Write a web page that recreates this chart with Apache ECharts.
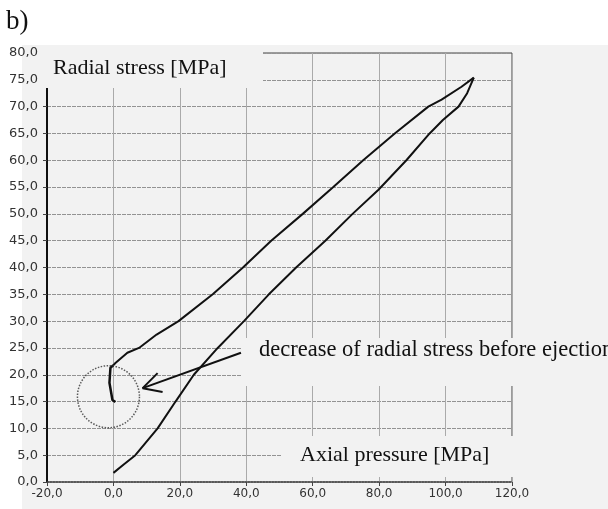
<!DOCTYPE html>
<html><head><meta charset="utf-8">
<script src="https://cdn.jsdelivr.net/npm/echarts@6/dist/echarts.min.js"></script>
<style>
html,body{margin:0;padding:0;background:#fff;}
#bg{position:absolute;left:22px;top:45px;width:586px;height:464px;background:#f2f2f2;}
#chart{position:absolute;left:0;top:0;width:608px;height:509px;}
</style></head><body>
<div id="bg"></div><div id="chart"></div>
<script>
// Axial pressure [MPa], Radial stress [MPa]
const loadingBranch = [[0,1.7],[3,3.2],[6.6,5],[13.3,10],[18.7,15],[24.2,20],[31.4,25],[39.3,30],[46.8,35],[55.0,40],[63.8,45],[72.0,50],[79.8,54.5],[88.2,60],[95.2,65],[99.2,67.5],[103.9,70],[106.5,72.5],[108.5,75.4]];
const unloadingBranch = [[108.5,75.4],[104.8,73.7],[98.8,71.3],[94.8,70],[84.7,65],[75.2,60],[66.2,55],[57.0,50],[47.5,45],[39.0,40],[29.9,35],[19.6,30],[13,27.5],[7.7,25],[4.2,24.1],[0.6,22.2],[0,21.8]];
const ejectionDrop = [[0,21.8],[-0.9,21.3],[-1.2,18.5],[-0.3,15.3],[0.6,14.9]];
const arrowShaft = [[38.4,24.1],[8.8,17.5]];
const arrowHead = [[13.3,20.3],[8.8,17.5],[14.8,16.8]];
const circleCenter = [[-1.5,15.9]];
const xRange = [-20, 120, 20];
const yRange = [0, 80, 5];
const labels = ['b)', 'Radial stress [MPa]', 'decrease of radial stress before ejection', 'Axial pressure [MPa]'];

const fmt = v => v.toFixed(1).replace('.', ',');
const serif = '"Liberation Serif", "Times New Roman", serif';
const chart = echarts.init(document.getElementById('chart'), null, {renderer: 'canvas'});
const cover = (x, y, w, h) => ({type: 'rect', shape: {x, y, width: w, height: h}, style: {fill: '#f2f2f2'}, z: 1, silent: true});
const txt = (s, x, y, size) => ({type: 'text', x, y, z: 5, silent: true, style: {text: s, font: size + 'px ' + serif, fill: '#111', verticalAlign: 'middle', textVerticalAlign: 'middle'}});

chart.setOption({
  animation: false,
  backgroundColor: 'transparent',
  grid: {left: 47, right: 96, top: 53, bottom: 27, show: true, borderColor: '#444', borderWidth: 1, outerBoundsMode: 'none', containLabel: false},
  xAxis: {
    type: 'value', min: xRange[0], max: xRange[1], interval: xRange[2],
    axisLine: {show: true, onZero: false, lineStyle: {color: '#444', width: 1.5, type: 'dotted'}},
    axisTick: {show: true, length: 4, lineStyle: {color: '#444'}},
    axisLabel: {formatter: fmt, margin: 6, color: '#333', fontSize: 12, fontFamily: 'DejaVu Sans'},
    splitLine: {show: true, lineStyle: {color: '#aaa', width: 1}}
  },
  yAxis: {
    type: 'value', min: yRange[0], max: yRange[1], interval: yRange[2],
    axisLine: {show: true, onZero: false, lineStyle: {color: '#111', width: 2}},
    axisTick: {show: true, length: 4, lineStyle: {color: '#444'}},
    axisLabel: {formatter: fmt, margin: 9, color: '#333', fontSize: 13, fontFamily: 'DejaVu Sans'},
    splitLine: {show: true, lineStyle: {color: '#939393', width: 1.2, type: [4, 1]}}
  },
  series: [
    {type: 'line', data: loadingBranch, symbol: 'none', lineStyle: {color: '#111', width: 2}, z: 3},
    {type: 'line', data: unloadingBranch, symbol: 'none', lineStyle: {color: '#111', width: 2}, z: 3},
    {type: 'line', data: ejectionDrop, symbol: 'none', lineStyle: {color: '#111', width: 2.5}, z: 3},
    {type: 'line', data: arrowShaft, symbol: 'none', lineStyle: {color: '#111', width: 2}, z: 3},
    {type: 'line', data: arrowHead, symbol: 'none', lineStyle: {color: '#111', width: 2}, z: 3},
    {type: 'scatter', data: circleCenter, symbol: 'circle', symbolSize: 62, itemStyle: {color: 'rgba(0,0,0,0)', borderColor: '#333', borderWidth: 1.5, borderType: [1.5, 1.5]}, z: 3, silent: true}
  ],
  graphic: [
    cover(42, 46, 221, 42),
    cover(242, 338, 366, 48),
    cover(282, 436, 240, 41),
    txt(labels[0], 6, 22, 27),
    txt(labels[1], 53, 68, 22),
    txt(labels[2], 259, 350, 22.5),
    txt(labels[3], 300, 455, 22)
  ]
});
</script>
</body></html>
